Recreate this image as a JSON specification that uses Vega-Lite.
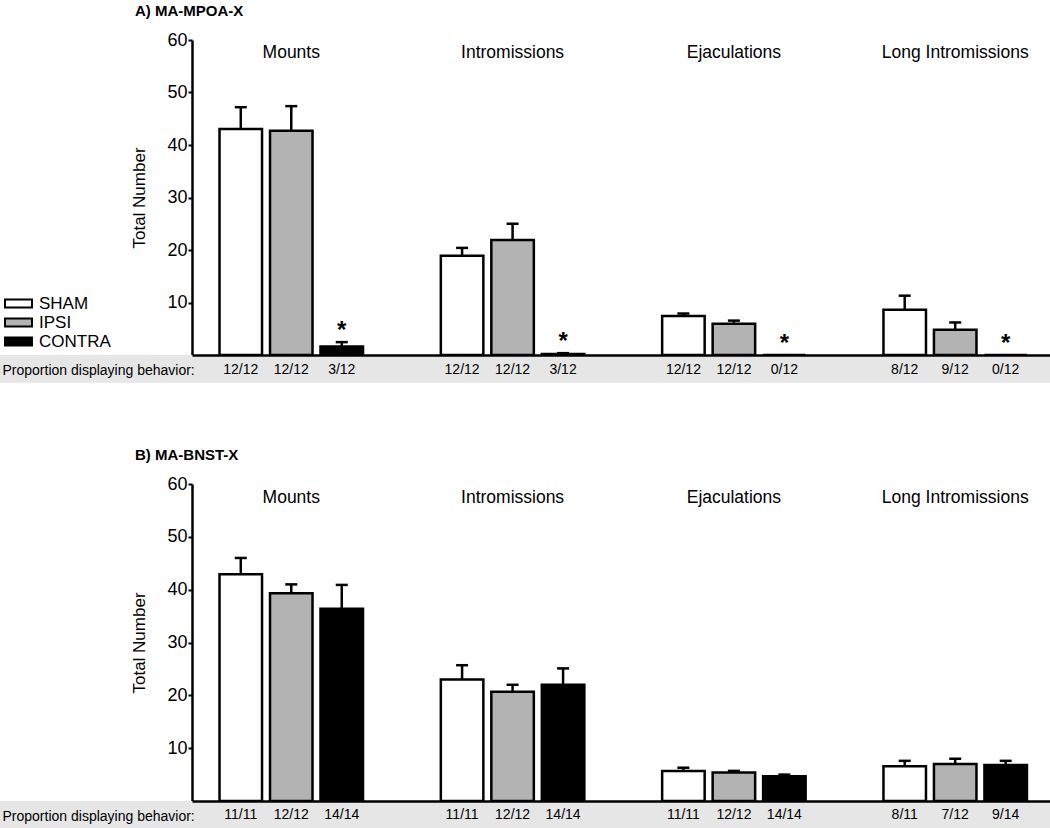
{
  "$schema": "https://vega.github.io/schema/vega-lite/v6.json",
  "padding": {"top": 4, "left": 0, "right": 0, "bottom": 0},
  "config": {"font": "Liberation Sans", "view": {"stroke": null}, "text": {"color": "black"}},
  "data": {"values": [
    {"panel": "A", "behavior": "Mounts", "group": "SHAM", "mean": 43.05, "upper": 47.2, "prop": "12/12", "star": false},
    {"panel": "A", "behavior": "Mounts", "group": "IPSI", "mean": 42.7, "upper": 47.4, "prop": "12/12", "star": false},
    {"panel": "A", "behavior": "Mounts", "group": "CONTRA", "mean": 1.6, "upper": 2.45, "prop": "3/12", "star": true},
    {"panel": "A", "behavior": "Intromissions", "group": "SHAM", "mean": 18.9, "upper": 20.4, "prop": "12/12", "star": false},
    {"panel": "A", "behavior": "Intromissions", "group": "IPSI", "mean": 21.9, "upper": 25.0, "prop": "12/12", "star": false},
    {"panel": "A", "behavior": "Intromissions", "group": "CONTRA", "mean": 0.2, "upper": 0.35, "prop": "3/12", "star": true},
    {"panel": "A", "behavior": "Ejaculations", "group": "SHAM", "mean": 7.45, "upper": 7.9, "prop": "12/12", "star": false},
    {"panel": "A", "behavior": "Ejaculations", "group": "IPSI", "mean": 5.95, "upper": 6.55, "prop": "12/12", "star": false},
    {"panel": "A", "behavior": "Ejaculations", "group": "CONTRA", "mean": 0, "upper": 0, "prop": "0/12", "star": true},
    {"panel": "A", "behavior": "Long Intromissions", "group": "SHAM", "mean": 8.6, "upper": 11.3, "prop": "8/12", "star": false},
    {"panel": "A", "behavior": "Long Intromissions", "group": "IPSI", "mean": 4.8, "upper": 6.2, "prop": "9/12", "star": false},
    {"panel": "A", "behavior": "Long Intromissions", "group": "CONTRA", "mean": 0, "upper": 0, "prop": "0/12", "star": true},
    {"panel": "B", "behavior": "Mounts", "group": "SHAM", "mean": 42.9, "upper": 46.0, "prop": "11/11", "star": false},
    {"panel": "B", "behavior": "Mounts", "group": "IPSI", "mean": 39.3, "upper": 41.0, "prop": "12/12", "star": false},
    {"panel": "B", "behavior": "Mounts", "group": "CONTRA", "mean": 36.4, "upper": 40.9, "prop": "14/14", "star": false},
    {"panel": "B", "behavior": "Intromissions", "group": "SHAM", "mean": 23.0, "upper": 25.7, "prop": "11/11", "star": false},
    {"panel": "B", "behavior": "Intromissions", "group": "IPSI", "mean": 20.7, "upper": 22.0, "prop": "12/12", "star": false},
    {"panel": "B", "behavior": "Intromissions", "group": "CONTRA", "mean": 22.0, "upper": 25.1, "prop": "14/14", "star": false},
    {"panel": "B", "behavior": "Ejaculations", "group": "SHAM", "mean": 5.7, "upper": 6.3, "prop": "11/11", "star": false},
    {"panel": "B", "behavior": "Ejaculations", "group": "IPSI", "mean": 5.4, "upper": 5.7, "prop": "12/12", "star": false},
    {"panel": "B", "behavior": "Ejaculations", "group": "CONTRA", "mean": 4.7, "upper": 5.0, "prop": "14/14", "star": false},
    {"panel": "B", "behavior": "Long Intromissions", "group": "SHAM", "mean": 6.6, "upper": 7.6, "prop": "8/11", "star": false},
    {"panel": "B", "behavior": "Long Intromissions", "group": "IPSI", "mean": 7.0, "upper": 8.0, "prop": "7/12", "star": false},
    {"panel": "B", "behavior": "Long Intromissions", "group": "CONTRA", "mean": 6.8, "upper": 7.6, "prop": "9/14", "star": false}
  ]},
  "resolve": {"legend": {"fill": "independent"}},
  "spacing": 65,
  "vconcat": [
    {
      "title": {"text": "A) MA-MPOA-X", "anchor": "start", "frame": "group", "dx": 135, "fontSize": 15, "fontWeight": "bold", "offset": 12, "color": "black"},
      "width": 1050,
      "height": 315,
      "transform": [{"filter": "datum.panel == 'A'"}],
      "layer": [
        {
          "mark": {"type": "bar", "stroke": "black", "strokeWidth": 2.5},
          "encoding": {
            "x": {"field": "behavior", "type": "nominal", "sort": ["Mounts", "Intromissions", "Ejaculations", "Long Intromissions"],
                  "scale": {"paddingInner": 0.3516, "paddingOuter": 0.548, "align": 0.905},
                  "axis": {"zindex": 1, "labels": false, "ticks": false, "grid": false, "domainColor": "black", "domainWidth": 2.5, "domainDash": [0, 192, 858],
                           "title": "Proportion displaying behavior:", "titleAnchor": "start", "titleAlign": "left", "titleX": 2, "titleY": 15,
                           "titleBaseline": "middle", "titleFontSize": 14, "titleFontWeight": "normal", "titleColor": "black"}},
            "xOffset": {"field": "group", "type": "nominal", "sort": ["SHAM", "IPSI", "CONTRA"], "scale": {"paddingInner": 0.158, "paddingOuter": 0}},
            "y": {"field": "mean", "type": "quantitative", "scale": {"domain": [0, 60], "nice": false},
                  "axis": {"values": [10, 20, 30, 40, 50, 60], "offset": -192, "grid": false, "domainColor": "black", "domainWidth": 2.5,
                           "tickColor": "black", "tickWidth": 2, "tickSize": 4, "labelFontSize": 18, "labelColor": "black", "labelPadding": 1,
                           "labelFlush": false, "title": "Total Number", "titleFontSize": 17, "titleFontWeight": "normal", "titleColor": "black", "titlePadding": 18}},
            "fill": {"field": "group", "type": "nominal", "scale": {"domain": ["SHAM", "IPSI", "CONTRA"], "range": ["#ffffff", "#b3b3b3", "#000000"]},
                     "legend": {"orient": "none", "legendX": 10, "legendY": 255, "title": null, "symbolType": "M-2,-0.6H2V0.6H-2Z", "symbolSize": 182,
                                "symbolStrokeColor": "black", "symbolStrokeWidth": 2, "symbolOpacity": 1, "labelFontSize": 17, "labelColor": "black",
                                "labelOffset": 12, "rowPadding": 1}}
          }
        },
        {
          "transform": [{"filter": "datum.behavior == 'Mounts' && datum.group == 'SHAM'"}],
          "mark": {"type": "rect", "fill": "#e6e6e6", "opacity": 1, "strokeWidth": 0},
          "encoding": {
            "y": {"datum": -5.3, "type": "quantitative"},
            "y2": {"datum": 0}
          }
        },
        {
          "transform": [{"filter": "datum.upper > datum.mean"}],
          "mark": {"type": "rule", "color": "black", "strokeWidth": 2.5},
          "encoding": {
            "x": {"field": "behavior", "type": "nominal", "sort": ["Mounts", "Intromissions", "Ejaculations", "Long Intromissions"]},
            "xOffset": {"field": "group", "type": "nominal", "sort": ["SHAM", "IPSI", "CONTRA"]},
            "y": {"field": "mean", "type": "quantitative"},
            "y2": {"field": "upper"}
          }
        },
        {
          "transform": [{"filter": "datum.upper > datum.mean"}],
          "mark": {"type": "tick", "color": "black", "thickness": 2.5, "size": 12, "opacity": 1},
          "encoding": {
            "x": {"field": "behavior", "type": "nominal", "sort": ["Mounts", "Intromissions", "Ejaculations", "Long Intromissions"]},
            "xOffset": {"field": "group", "type": "nominal", "sort": ["SHAM", "IPSI", "CONTRA"]},
            "y": {"field": "upper", "type": "quantitative"}
          }
        },
        {
          "transform": [{"filter": "datum.star"}],
          "mark": {"type": "text", "text": "*", "fontSize": 24, "fontWeight": "bold", "baseline": "alphabetic", "dy": -4},
          "encoding": {
            "x": {"field": "behavior", "type": "nominal", "sort": ["Mounts", "Intromissions", "Ejaculations", "Long Intromissions"]},
            "xOffset": {"field": "group", "type": "nominal", "sort": ["SHAM", "IPSI", "CONTRA"]},
            "y": {"field": "upper", "type": "quantitative"}
          }
        },
        {
          "mark": {"type": "text", "fontSize": 14, "baseline": "middle"},
          "encoding": {
            "x": {"field": "behavior", "type": "nominal", "sort": ["Mounts", "Intromissions", "Ejaculations", "Long Intromissions"]},
            "xOffset": {"field": "group", "type": "nominal", "sort": ["SHAM", "IPSI", "CONTRA"]},
            "y": {"datum": -2.8, "type": "quantitative"},
            "text": {"field": "prop"}
          }
        },
        {
          "transform": [{"filter": "datum.group == 'IPSI'"}],
          "mark": {"type": "text", "fontSize": 17.5, "baseline": "middle"},
          "encoding": {
            "x": {"field": "behavior", "type": "nominal", "sort": ["Mounts", "Intromissions", "Ejaculations", "Long Intromissions"]},
            "y": {"datum": 57.6, "type": "quantitative"},
            "text": {"field": "behavior"}
          }
        }
      ]
    },
    {
      "title": {"text": "B) MA-BNST-X", "anchor": "start", "frame": "group", "dx": 135, "fontSize": 15, "fontWeight": "bold", "offset": 12, "color": "black"},
      "width": 1050,
      "height": 317,
      "transform": [{"filter": "datum.panel == 'B'"}],
      "layer": [
        {
          "mark": {"type": "bar", "stroke": "black", "strokeWidth": 2.5},
          "encoding": {
            "x": {"field": "behavior", "type": "nominal", "sort": ["Mounts", "Intromissions", "Ejaculations", "Long Intromissions"],
                  "scale": {"paddingInner": 0.3516, "paddingOuter": 0.548, "align": 0.905},
                  "axis": {"zindex": 1, "labels": false, "ticks": false, "grid": false, "domainColor": "black", "domainWidth": 2.5, "domainDash": [0, 192, 858],
                           "title": "Proportion displaying behavior:", "titleAnchor": "start", "titleAlign": "left", "titleX": 2, "titleY": 15,
                           "titleBaseline": "middle", "titleFontSize": 14, "titleFontWeight": "normal", "titleColor": "black"}},
            "xOffset": {"field": "group", "type": "nominal", "sort": ["SHAM", "IPSI", "CONTRA"], "scale": {"paddingInner": 0.158, "paddingOuter": 0}},
            "y": {"field": "mean", "type": "quantitative", "scale": {"domain": [0, 60], "nice": false},
                  "axis": {"values": [10, 20, 30, 40, 50, 60], "offset": -192, "grid": false, "domainColor": "black", "domainWidth": 2.5,
                           "tickColor": "black", "tickWidth": 2, "tickSize": 4, "labelFontSize": 18, "labelColor": "black", "labelPadding": 1,
                           "labelFlush": false, "title": "Total Number", "titleFontSize": 17, "titleFontWeight": "normal", "titleColor": "black", "titlePadding": 18}},
            "fill": {"field": "group", "type": "nominal", "scale": {"domain": ["SHAM", "IPSI", "CONTRA"], "range": ["#ffffff", "#b3b3b3", "#000000"]}, "legend": null}
          }
        },
        {
          "transform": [{"filter": "datum.behavior == 'Mounts' && datum.group == 'SHAM'"}],
          "mark": {"type": "rect", "fill": "#e6e6e6", "opacity": 1, "strokeWidth": 0},
          "encoding": {
            "y": {"datum": -5.4, "type": "quantitative"},
            "y2": {"datum": 0}
          }
        },
        {
          "transform": [{"filter": "datum.upper > datum.mean"}],
          "mark": {"type": "rule", "color": "black", "strokeWidth": 2.5},
          "encoding": {
            "x": {"field": "behavior", "type": "nominal", "sort": ["Mounts", "Intromissions", "Ejaculations", "Long Intromissions"]},
            "xOffset": {"field": "group", "type": "nominal", "sort": ["SHAM", "IPSI", "CONTRA"]},
            "y": {"field": "mean", "type": "quantitative"},
            "y2": {"field": "upper"}
          }
        },
        {
          "transform": [{"filter": "datum.upper > datum.mean"}],
          "mark": {"type": "tick", "color": "black", "thickness": 2.5, "size": 12, "opacity": 1},
          "encoding": {
            "x": {"field": "behavior", "type": "nominal", "sort": ["Mounts", "Intromissions", "Ejaculations", "Long Intromissions"]},
            "xOffset": {"field": "group", "type": "nominal", "sort": ["SHAM", "IPSI", "CONTRA"]},
            "y": {"field": "upper", "type": "quantitative"}
          }
        },
        {
          "mark": {"type": "text", "fontSize": 14, "baseline": "middle"},
          "encoding": {
            "x": {"field": "behavior", "type": "nominal", "sort": ["Mounts", "Intromissions", "Ejaculations", "Long Intromissions"]},
            "xOffset": {"field": "group", "type": "nominal", "sort": ["SHAM", "IPSI", "CONTRA"]},
            "y": {"datum": -2.7, "type": "quantitative"},
            "text": {"field": "prop"}
          }
        },
        {
          "transform": [{"filter": "datum.group == 'IPSI'"}],
          "mark": {"type": "text", "fontSize": 17.5, "baseline": "middle"},
          "encoding": {
            "x": {"field": "behavior", "type": "nominal", "sort": ["Mounts", "Intromissions", "Ejaculations", "Long Intromissions"]},
            "y": {"datum": 57.4, "type": "quantitative"},
            "text": {"field": "behavior"}
          }
        }
      ]
    }
  ]
}
